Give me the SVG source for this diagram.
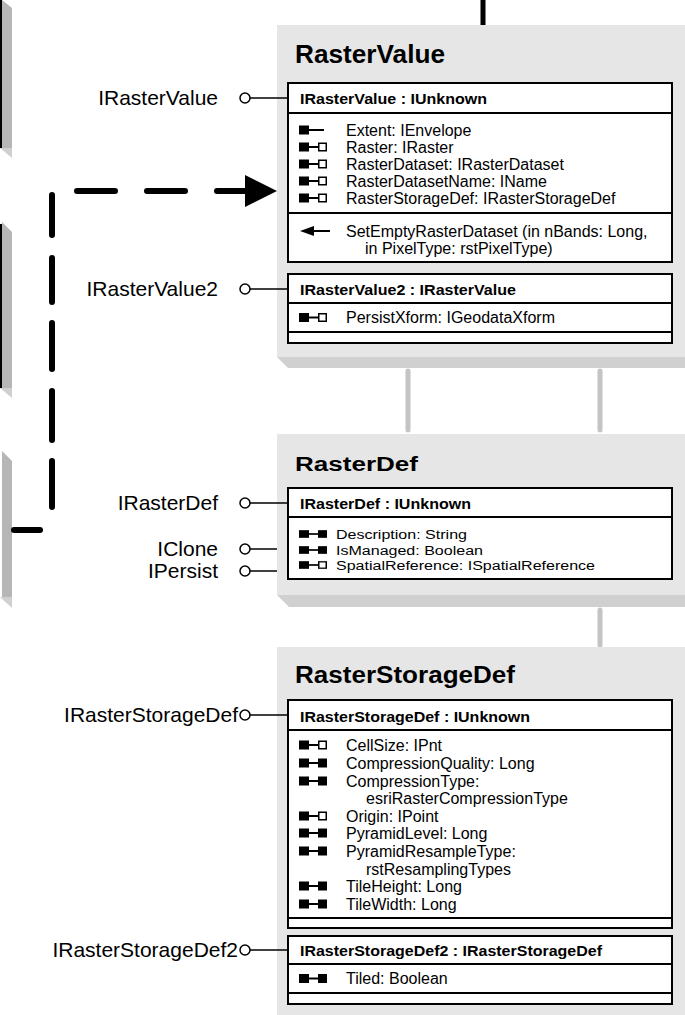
<svg xmlns="http://www.w3.org/2000/svg" width="685" height="1015" viewBox="0 0 685 1015">
<style>
.gray{fill:#e6e6e6}
.shadow{fill:#d0d0d0}
.side{fill:#b6b6b6}
.box{fill:#fff;stroke:#000;stroke-width:2}
.div{stroke:#000;stroke-width:2}
.title{font-family:"Liberation Sans",Arial,sans-serif;font-weight:bold;fill:#000}
.hdr{font-family:"Liberation Sans",Arial,sans-serif;font-weight:bold;font-size:15px;fill:#000}
.prop{font-family:"Liberation Sans",Arial,sans-serif;font-size:16px;fill:#000}
.prop2{font-family:"Liberation Sans",Arial,sans-serif;font-size:12.5px;fill:#000}
.lbl{font-family:"Liberation Sans",Arial,sans-serif;font-size:21px;text-anchor:end;fill:#000}
.lol{fill:#fff;stroke:#000;stroke-width:1.5}
.lolline{stroke:#000;stroke-width:1.5}
.dash{stroke:#000;stroke-width:6;stroke-linecap:round;fill:none}
.gconn{stroke:#c4c4c4;stroke-width:5;stroke-linecap:round}
</style>
<defs>
<g id="ro"><rect x="0" y="-4.5" width="10" height="9"/><line x1="10" y1="0" x2="25" y2="0" stroke="#000" stroke-width="2"/></g>
<g id="rw"><rect x="0" y="-4.5" width="10" height="9"/><line x1="10" y1="0" x2="19" y2="0" stroke="#000" stroke-width="2"/><rect x="19" y="-4.5" width="9" height="9"/></g>
<g id="rr"><rect x="0" y="-4.5" width="10" height="9"/><line x1="10" y1="0" x2="19" y2="0" stroke="#000" stroke-width="2"/><rect x="19.75" y="-3.75" width="7.5" height="7.5" fill="#fff" stroke="#000" stroke-width="1.5"/></g>
<g id="mt"><polygon points="0,0 14,-5 14,5"/><line x1="14" y1="0" x2="30" y2="0" stroke="#000" stroke-width="2"/></g>
</defs>

<g id="left-shapes">
<rect x="0" y="0" width="2" height="148" fill="#000"/>
<polygon class="side" points="2,0 12,8 12,148 2,148"/>
<polygon class="shadow" points="0,148 12,148 12,158"/>
<rect x="0" y="224" width="2" height="164" fill="#000"/>
<polygon class="side" points="2,222 12,232 12,388 2,388"/>
<polygon class="shadow" points="0,388 12,388 12,398"/>
<polygon class="side" points="2,451 12,461 12,597 2,597"/>
<polygon class="shadow" points="0,597 12,597 12,608"/>
</g>

<g id="connectors">
<line x1="483" y1="0" x2="483" y2="25" stroke="#000" stroke-width="5" stroke-linecap="round"/>
<line class="gconn" x1="408" y1="371" x2="408" y2="430"/>
<line class="gconn" x1="600" y1="371" x2="600" y2="430"/>
<line class="gconn" x1="600" y1="610" x2="600" y2="645"/>
<line class="dash" x1="14" y1="530" x2="40" y2="530"/>
<line class="dash" x1="52" y1="461" x2="52" y2="507"/>
<line class="dash" x1="52" y1="391" x2="52" y2="440"/>
<line class="dash" x1="52" y1="323" x2="52" y2="369"/>
<line class="dash" x1="52" y1="258" x2="52" y2="302"/>
<line class="dash" x1="52" y1="195" x2="52" y2="235"/>
<line class="dash" x1="77" y1="191" x2="115" y2="191"/>
<line class="dash" x1="147" y1="191" x2="185" y2="191"/>
<line class="dash" x1="217" y1="191" x2="246" y2="191"/>
<polygon points="245,175 277,191 245,207" fill="#000"/>
</g>

<g id="RasterValue">
<rect class="gray" x="277" y="25" width="408" height="332"/>
<polygon class="shadow" points="277,357 685,357 685,368 288,368"/>
<text class="title" x="295" y="63" font-size="25" textLength="150" lengthAdjust="spacingAndGlyphs">RasterValue</text>
<rect class="box" x="288" y="83" width="384" height="179"/>
<line class="div" x1="288" y1="113" x2="672" y2="113"/>
<line class="div" x1="288" y1="213" x2="672" y2="213"/>
<text class="hdr" x="300" y="104" textLength="187" lengthAdjust="spacingAndGlyphs">IRasterValue : IUnknown</text>
<use href="#ro" x="299" y="130"/>
<use href="#rr" x="299" y="147"/>
<use href="#rr" x="299" y="164"/>
<use href="#rr" x="299" y="181"/>
<use href="#rr" x="299" y="198"/>
<text class="prop" x="346" y="135.5">Extent: IEnvelope</text>
<text class="prop" x="346" y="152.5">Raster: IRaster</text>
<text class="prop" x="346" y="169.5">RasterDataset: IRasterDataset</text>
<text class="prop" x="346" y="186.5">RasterDatasetName: IName</text>
<text class="prop" x="346" y="203.5">RasterStorageDef: IRasterStorageDef</text>
<use href="#mt" x="300" y="231"/>
<text class="prop" x="346" y="237">SetEmptyRasterDataset (in nBands: Long,</text>
<text class="prop" x="365" y="254">in PixelType: rstPixelType)</text>
<rect class="box" x="288" y="274" width="384" height="69"/>
<line class="div" x1="288" y1="303" x2="672" y2="303"/>
<line class="div" x1="288" y1="332" x2="672" y2="332"/>
<text class="hdr" x="300" y="295" textLength="216" lengthAdjust="spacingAndGlyphs">IRasterValue2 : IRasterValue</text>
<use href="#rr" x="299" y="317.5"/>
<text class="prop" x="346" y="323">PersistXform: IGeodataXform</text>
<line class="lolline" x1="250" y1="98" x2="288" y2="98"/>
<circle class="lol" cx="245" cy="98" r="5"/>
<text class="lbl" x="218" y="105">IRasterValue</text>
<line class="lolline" x1="250" y1="289" x2="288" y2="289"/>
<circle class="lol" cx="245" cy="289" r="5"/>
<text class="lbl" x="218" y="296">IRasterValue2</text>
</g>

<g id="RasterDef">
<rect class="gray" x="277" y="434" width="408" height="161"/>
<polygon class="shadow" points="277,595 685,595 685,607 289,607"/>
<text class="title" x="295" y="471" font-size="20" textLength="123" lengthAdjust="spacingAndGlyphs">RasterDef</text>
<rect class="box" x="288" y="488" width="384" height="91"/>
<line class="div" x1="288" y1="517" x2="672" y2="517"/>
<text class="hdr" x="300" y="509" font-size="14" textLength="171" lengthAdjust="spacingAndGlyphs">IRasterDef : IUnknown</text>
<use href="#rw" transform="translate(299,534) scale(1,0.85)"/>
<use href="#rw" transform="translate(299,550) scale(1,0.85)"/>
<use href="#rr" transform="translate(299,565) scale(1,0.85)"/>
<text class="prop2" x="336" y="538.5" textLength="131" lengthAdjust="spacingAndGlyphs">Description: String</text>
<text class="prop2" x="336" y="554.5" textLength="147" lengthAdjust="spacingAndGlyphs">IsManaged: Boolean</text>
<text class="prop2" x="336" y="569.5" textLength="259" lengthAdjust="spacingAndGlyphs">SpatialReference: ISpatialReference</text>
<line class="lolline" x1="250" y1="503" x2="288" y2="503"/>
<circle class="lol" cx="245" cy="503" r="5"/>
<text class="lbl" x="218" y="510">IRasterDef</text>
<line class="lolline" x1="250" y1="549" x2="277" y2="549"/>
<circle class="lol" cx="245" cy="549" r="5"/>
<text class="lbl" x="218" y="556">IClone</text>
<line class="lolline" x1="250" y1="571" x2="277" y2="571"/>
<circle class="lol" cx="245" cy="571" r="5"/>
<text class="lbl" x="218" y="578">IPersist</text>
</g>

<g id="RasterStorageDef">
<rect class="gray" x="277" y="647" width="408" height="368"/>
<text class="title" x="295" y="683" font-size="23" textLength="220" lengthAdjust="spacingAndGlyphs">RasterStorageDef</text>
<rect class="box" x="288" y="700" width="384" height="228"/>
<line class="div" x1="288" y1="730" x2="672" y2="730"/>
<line class="div" x1="288" y1="918" x2="672" y2="918"/>
<text class="hdr" x="300" y="722" textLength="230" lengthAdjust="spacingAndGlyphs">IRasterStorageDef : IUnknown</text>
<use href="#rr" x="299" y="745"/>
<use href="#rw" x="299" y="763"/>
<use href="#rw" x="299" y="781"/>
<use href="#rr" x="299" y="816"/>
<use href="#rw" x="299" y="833"/>
<use href="#rw" x="299" y="851"/>
<use href="#rw" x="299" y="886"/>
<use href="#rw" x="299" y="904"/>
<text class="prop" x="346" y="750.5">CellSize: IPnt</text>
<text class="prop" x="346" y="768.5">CompressionQuality: Long</text>
<text class="prop" x="346" y="786.5">CompressionType:</text>
<text class="prop" x="366" y="803.5">esriRasterCompressionType</text>
<text class="prop" x="346" y="821.5">Origin: IPoint</text>
<text class="prop" x="346" y="838.5">PyramidLevel: Long</text>
<text class="prop" x="346" y="856.5">PyramidResampleType:</text>
<text class="prop" x="366" y="874.5">rstResamplingTypes</text>
<text class="prop" x="346" y="891.5">TileHeight: Long</text>
<text class="prop" x="346" y="909.5">TileWidth: Long</text>
<rect class="box" x="288" y="936" width="384" height="68"/>
<line class="div" x1="288" y1="964" x2="672" y2="964"/>
<line class="div" x1="288" y1="993" x2="672" y2="993"/>
<text class="hdr" x="300" y="956" textLength="302" lengthAdjust="spacingAndGlyphs">IRasterStorageDef2 : IRasterStorageDef</text>
<use href="#rw" x="299" y="978.5"/>
<text class="prop" x="346" y="984">Tiled: Boolean</text>
<line class="lolline" x1="250" y1="715" x2="288" y2="715"/>
<circle class="lol" cx="245" cy="715" r="5"/>
<text class="lbl" x="238" y="722">IRasterStorageDef</text>
<line class="lolline" x1="250" y1="950" x2="288" y2="950"/>
<circle class="lol" cx="245" cy="950" r="5"/>
<text class="lbl" x="238" y="957">IRasterStorageDef2</text>
</g>
</svg>
